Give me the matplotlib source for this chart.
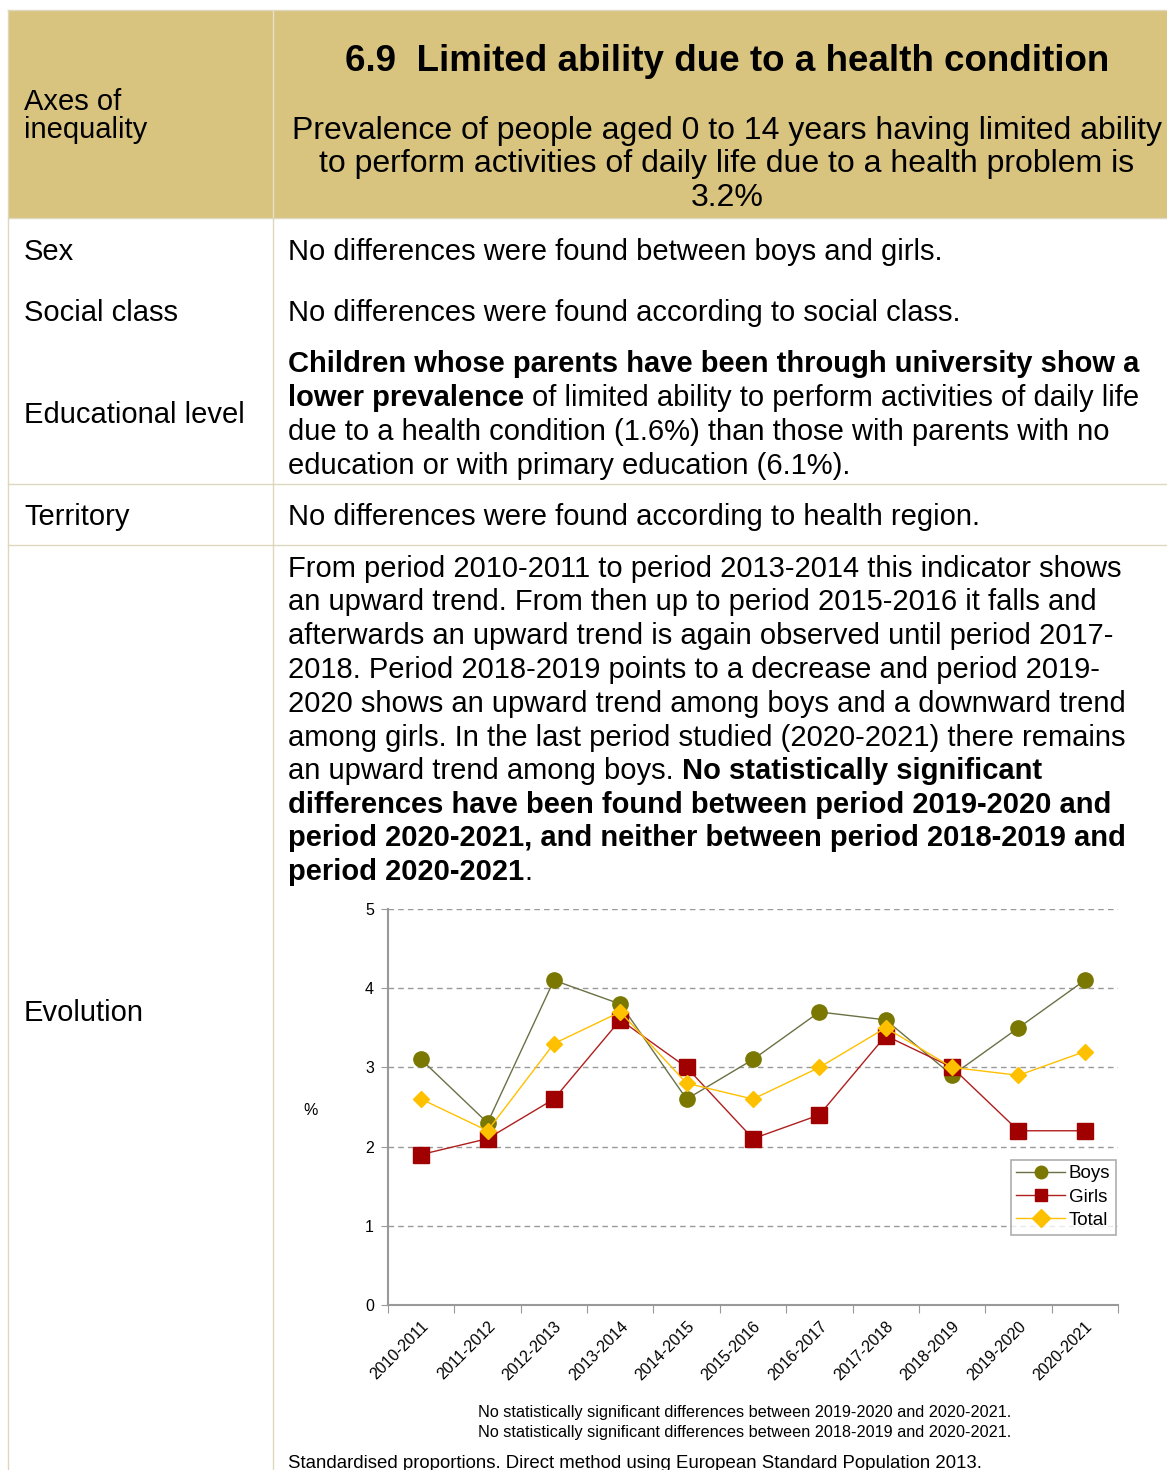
import matplotlib
matplotlib.use("Agg")
import matplotlib.pyplot as plt
from matplotlib.patches import Rectangle
import numpy as np

plt.rcParams['font.family'] = ['Liberation Sans', 'DejaVu Sans']

periods = ["2010-2011", "2011-2012", "2012-2013", "2013-2014", "2014-2015", "2015-2016",
           "2016-2017", "2017-2018", "2018-2019", "2019-2020", "2020-2021"]
boys = [3.1, 2.3, 4.1, 3.8, 2.6, 3.1, 3.7, 3.6, 2.9, 3.5, 4.1]
girls = [1.9, 2.1, 2.6, 3.6, 3.0, 2.1, 2.4, 3.4, 3.0, 2.2, 2.2]
total = [2.6, 2.2, 3.3, 3.7, 2.8, 2.6, 3.0, 3.5, 3.0, 2.9, 3.2]
yticks = [0, 1, 2, 3, 4, 5]

W, H = 1167, 1470
fig = plt.figure(figsize=(W / 100, H / 100), dpi=100)
bg = fig.add_axes([0, 0, 1, 1])
bg.set_xlim(0, W)
bg.set_ylim(H, 0)
bg.axis('off')
renderer = fig.canvas.get_renderer()

head_col = '#D8C37F'
border = '#DDD7BD'
BODY = 21
DY = 2  # small vertical nudge for text

# table frame
bg.add_patch(Rectangle((8, 10), W, 208, facecolor=head_col, edgecolor='none'))
bg.plot([8, W], [10, 10], color=border, lw=1)
bg.plot([8, 8], [10, H], color=border, lw=1)
bg.plot([273, 273], [10, 218], color='#E9E1C6', lw=1)
bg.plot([273, 273], [218, H], color=border, lw=1)
for yy in [218, 484, 545]:
    bg.plot([8, W], [yy, yy], color=border, lw=1)

# header
bg.text(24, 114 + DY, "Axes of\ninequality", fontsize=BODY, va='center', ha='left', linespacing=1.0)
bg.text(727, 59 + DY, "6.9  Limited ability due to a health condition", fontsize=26.5,
        fontweight='bold', va='center', ha='center')
for yy, s in zip([129, 162, 196], ["Prevalence of people aged 0 to 14 years having limited ability",
                                  "to perform activities of daily life due to a health problem is",
                                  "3.2%"]):
    bg.text(727, yy + DY, s, fontsize=23, va='center', ha='center')

# left column labels
for yy, s in zip([250, 311, 413, 515, 1011],
                 ["Sex", "Social class", "Educational level", "Territory", "Evolution"]):
    bg.text(24, yy + DY, s, fontsize=BODY, va='center', ha='left')


def rich_line(x, y, parts):
    for txt, bold in parts:
        wt = 'bold' if bold else 'normal'
        a = bg.text(0, 0, "a a", fontsize=BODY, fontweight=wt)
        b = bg.text(0, 0, "aa", fontsize=BODY, fontweight=wt)
        sp = a.get_window_extent(renderer).width - b.get_window_extent(renderer).width
        a.remove()
        b.remove()
        core = txt.strip(' ')
        lead = len(txt) - len(txt.lstrip(' '))
        trail = len(txt) - len(txt.rstrip(' '))
        x += lead * sp
        t = bg.text(x, y + DY, core, fontsize=BODY, fontweight=wt, va='center', ha='left')
        x += t.get_window_extent(renderer).width + trail * sp


rich_line(288, 250, [("No differences were found between boys and girls.", False)])
rich_line(288, 311, [("No differences were found according to social class.", False)])
edu = [
    [("Children whose parents have been through university show a", True)],
    [("lower prevalence", True), (" of limited ability to perform activities of daily life", False)],
    [("due to a health condition (1.6%) than those with parents with no", False)],
    [("education or with primary education (6.1%).", False)],
]
for yy, parts in zip([362, 396, 430, 464], edu):
    rich_line(288, yy, parts)
rich_line(288, 515, [("No differences were found according to health region.", False)])

evo = [
    [("From period 2010-2011 to period 2013-2014 this indicator shows", False)],
    [("an upward trend. From then up to period 2015-2016 it falls and", False)],
    [("afterwards an upward trend is again observed until period 2017-", False)],
    [("2018. Period 2018-2019 points to a decrease and period 2019-", False)],
    [("2020 shows an upward trend among boys and a downward trend", False)],
    [("among girls. In the last period studied (2020-2021) there remains", False)],
    [("an upward trend among boys. ", False), ("No statistically significant", True)],
    [("differences have been found between period 2019-2020 and", True)],
    [("period 2020-2021, and neither between period 2018-2019 and", True)],
    [("period 2020-2021", True), (".", False)],
]
for yy, parts in zip([567, 600, 634, 668, 702, 736, 769, 803, 836, 870], evo):
    rich_line(288, yy, parts)

# chart
ax = fig.add_axes([388 / W, (H - 1305) / H, (1118 - 388) / W, (1305 - 909) / H])
x = np.arange(len(periods))
ax.plot(x, boys, color='#6B7045', lw=1, marker='o', ms=11, mfc='#7A7800', mec='#7A7800', label='Boys', zorder=3)
ax.plot(x, girls, color='#B01E1E', lw=1, marker='s', ms=11, mfc='#A00000', mec='#A00000', label='Girls', zorder=4)
ax.plot(x, total, color='#FFC000', lw=1, marker='D', ms=8.5, mfc='#FFC000', mec='#FFC000', label='Total', zorder=5)
ax.set_xlim(-0.5, len(periods) - 0.5)
ax.set_ylim(0, 5)
ax.set_yticks(yticks)
ax.tick_params(axis='y', length=5, color='#999999', labelsize=11.5, pad=5)
ax.set_xticks(np.arange(-0.5, len(periods), 1.0))
ax.set_xticklabels([])
ax.tick_params(axis='x', which='major', length=6, color='#999999', direction='out')
ax.set_xticks(x, minor=True)
ax.set_xticklabels(periods, minor=True, rotation=45, ha='right', rotation_mode='anchor', fontsize=11.5)
ax.tick_params(axis='x', which='minor', length=0, pad=10)
ax.grid(axis='y', color='#999999', ls=(0, (4, 3)), lw=1)
ax.set_axisbelow(True)
for s in ['top', 'right']:
    ax.spines[s].set_visible(False)
for s in ['left', 'bottom']:
    ax.spines[s].set_color('#999999')
    ax.spines[s].set_linewidth(1.5)
ax.text(-0.106, 0.49, "%", transform=ax.transAxes, fontsize=11.5, ha='center', va='center')
leg = ax.legend(loc='lower right', bbox_to_anchor=(0.997, 0.178), fontsize=13.5, frameon=True,
                fancybox=False, edgecolor='#999999', handlelength=2.6, handletextpad=0.2,
                borderpad=0.3, labelspacing=0.33, borderaxespad=0)
leg.get_frame().set_linewidth(1.2)
for h in leg.legend_handles:
    h.set_markersize(9)

bg.text(745, 1411 + DY, "No statistically significant differences between 2019-2020 and 2020-2021.",
        fontsize=11.7, ha='center', va='center')
bg.text(745, 1430 + DY, "No statistically significant differences between 2018-2019 and 2020-2021.",
        fontsize=11.7, ha='center', va='center')
bg.text(288, 1461 + DY, "Standardised proportions. Direct method using European Standard Population 2013.",
        fontsize=13.4, ha='left', va='center')

fig.savefig("out.png", dpi=100)
